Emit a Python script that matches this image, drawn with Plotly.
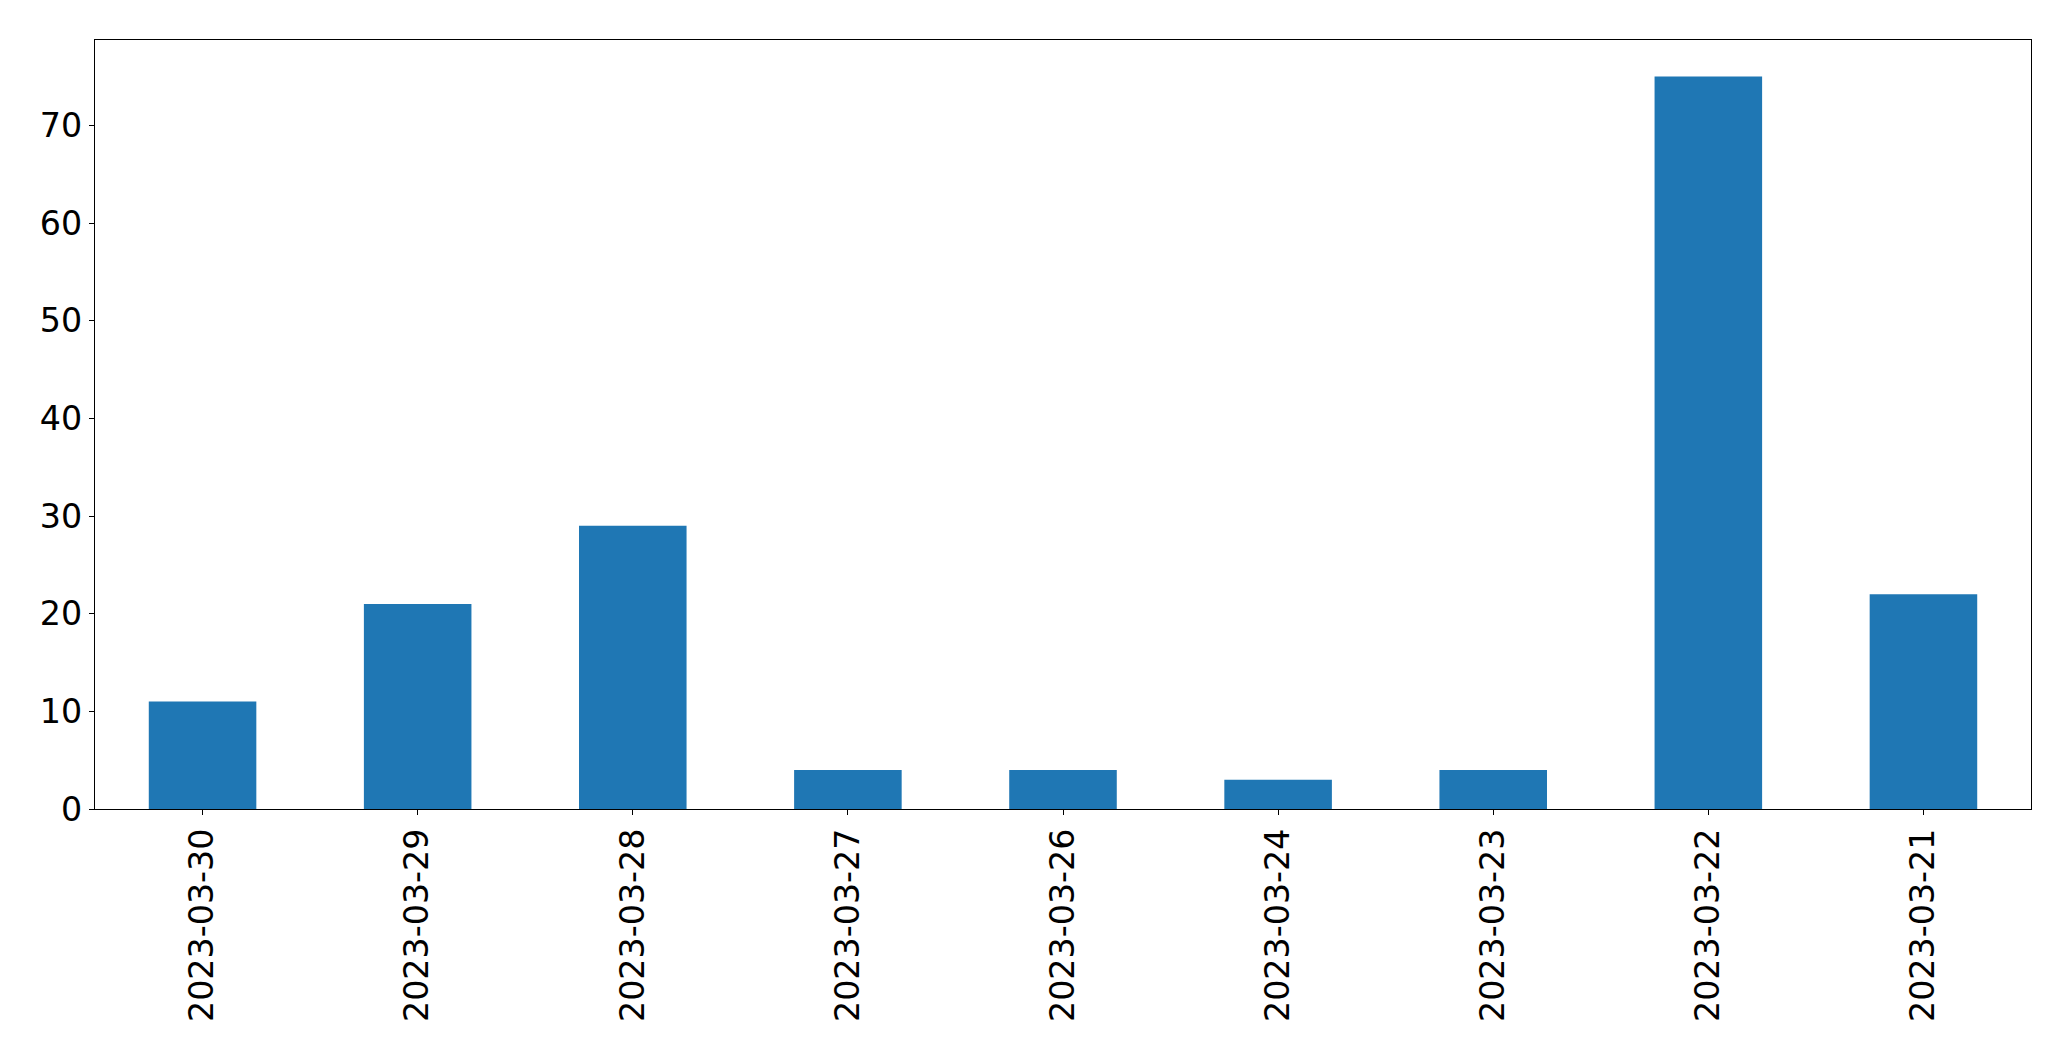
import plotly.graph_objects as go

dates = ["2023-03-30", "2023-03-29", "2023-03-28", "2023-03-27", "2023-03-26",
         "2023-03-24", "2023-03-23", "2023-03-22", "2023-03-21"]
counts = [11, 21, 29, 4, 4, 3, 4, 75, 22]
y_ticks = [0, 10, 20, 30, 40, 50, 60, 70]

fig = go.Figure(go.Bar(x=dates, y=counts, width=0.5, marker_color="#1f77b4",
                       marker_line_width=0))

fig.update_layout(
    width=2063, height=1053,
    margin=dict(l=86.5, r=39.5, t=31.5, b=252),
    plot_bgcolor="white", paper_bgcolor="white",
    font=dict(family="DejaVu Sans", size=33.3, color="black"),
    showlegend=False,
)
fig.update_xaxes(type="category", range=[-0.5, 8.5], tickangle=-90,
                 showline=True, linecolor="black", linewidth=1.4, mirror=True,
                 ticks="outside", ticklen=5, tickwidth=1.4, tickcolor="black",
                 showgrid=False, zeroline=False)
fig.update_yaxes(range=[0, 78.75], tickvals=y_ticks,
                 showline=True, linecolor="black", linewidth=1.4, mirror=True,
                 ticks="outside", ticklen=5, tickwidth=1.4, tickcolor="black",
                 showgrid=False, zeroline=False)

fig.write_html("out.html")
